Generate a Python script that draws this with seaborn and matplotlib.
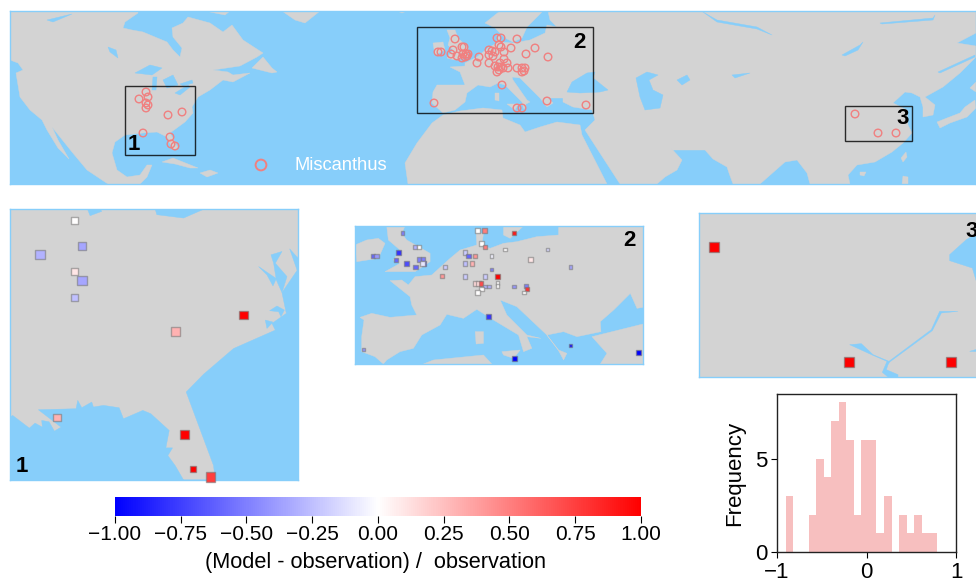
import numpy as np
import matplotlib
matplotlib.use('Agg')
import matplotlib.pyplot as plt
from matplotlib.patches import Polygon, Rectangle
from matplotlib.cm import ScalarMappable
from matplotlib.colors import Normalize
from matplotlib.ticker import FuncFormatter
import seaborn as sns

LAND = 'lightgrey'
WATER = 'lightskyblue'
MARK = 'lightcoral'

# world map outlines, map units
north_america = [(10,11),(138,11),(138,13),(125,22),(123,28),(132,30),(143,32),(167,42),(173,50),(180,57),(182,48),(173,37),(172,28),(183,23),(188,17),(210,23),(223,32),(232,25),(243,40),(263,53),(257,57),(240,66),(213,70),(228,72),(233,75),(250,73),(233,82),(223,80),(210,90),(198,97),(192,107),(193,113),(185,122),(170,133),(178,148),(173,150),(167,137),(157,132),(143,133),(125,135),(115,142),(112,153),(117,170),(127,177),(140,175),(147,165),(152,165),(147,177),(140,184),(108,184),(87,170),(72,152),(52,127),(58,140),(69,159),(58,148),(47,130),(42,120),(30,110),(20,97),(16,73),(23,70),(18,63),(10,60)]
eurasia = [(548,11),(976,11),(976,33),(957,43),(976,46),(976,57),(960,73),(943,87),(925,97),(935,105),(933,115),(923,117),(923,107),(920,97),(912,93),(905,92),(893,103),(907,110),(908,125),(912,133),(903,143),(892,152),(875,162),(857,165),(848,175),(850,184),(810,184),(807,173),(797,160),(785,162),(760,184),(733,184),(729,173),(727,167),(713,159),(705,150),(673,150),(670,147),(660,155),(652,152),(645,142),(640,133),(648,138),(652,145),(670,147),(682,160),(677,170),(665,177),(657,184),(620,184),(585,130),(595,120),(592,110),(573,107),(563,102),(563,98),(548,98),(553,103),(547,107),(540,98),(520,78),(512,77),(513,80),(527,100),(530,102),(526,104),(524,109),(522,102),(505,85),(498,83),(490,87),(478,85),(467,93),(465,102),(455,110),(443,113),(432,103),(433,92),(437,85),(465,85),(460,72),(450,67),(465,66),(465,63),(477,57),(488,48),(497,43),(497,37),(500,35),(500,42),(513,43),(530,40),(545,33),(547,25),(557,27),(550,20)]
scandinavia = [(500,11),(543,11),(527,27),(522,38),(513,42),(505,38),(495,28),(485,23)]
africa = [(408,184),(405,163),(417,143),(432,123),(443,115),(460,111),(483,108),(502,110),(503,118),(520,125),(525,132),(540,127),(557,122),(580,125),(582,135),(607,184)]
small_land = [
    [(447,30),(455,30),(458,38),(468,48),(468,57),(455,60),(447,58),(453,50),(448,45),(450,38)],
    [(433,43),(443,42),(445,50),(435,55)],
    [(495,93),(499,93),(499,101),(495,100)],
    [(507,104),(518,104),(515,110)],
    [(252,68),(263,57),(272,68),(277,72),(272,73),(260,70)],
    [(205,11),(230,11),(225,15)],
    [(282,11),(320,11),(305,23),(295,20)],
    [(397,11),(407,11),(402,13)],
    [(162,162),(173,158),(198,168),(190,168),(175,164)],
    [(200,173),(210,170),(218,173),(207,177)],
    [(906,152),(907,157),(903,162),(901,158)],
    [(902,184),(903,176),(908,177),(908,184)],
    [(937,122),(947,118),(960,113),(965,107),(975,100),(976,108),(967,117),(950,123),(940,128)],
    [(970,88),(976,82),(976,92)],
    [(860,172),(866,172),(864,176),(860,175)],
]
inland_water = [
    [(108,47),(116,50),(118,58),(110,52)],
    [(135,73),(150,65),(162,68),(152,75)],
    [(153,77),(157,77),(156,90),(152,90)],
    [(163,80),(173,75),(178,85),(167,88)],
    [(175,93),(188,85),(190,87),(180,95)],
    [(180,84),(192,80),(193,83),(183,86)],
    [(47,20),(72,14),(53,22)],
    [(567,92),(572,82),(587,73),(595,72),(593,78),(608,90),(600,92),(580,93)],
    [(636,78),(647,72),(658,75),(649,80),(653,90),(663,95),(660,108),(645,110),(640,97)],
    [(677,80),(687,75),(690,80),(682,85)],
    [(842,55),(860,45),(863,42),(858,50),(845,56)],
    [(732,75),(750,73),(735,78)],
    [(703,12),(717,20),(757,27),(772,35),(757,29),(717,22)],
    [(880,23),(933,18),(935,15),(933,20),(882,24)],
    [(938,72),(975,55),(975,57),(940,73)],
]

# study sites on the world map
site_x = [146,139,148,146,148,146,168,182,143,170,171,175,
          434,438,441,455,462,464,453,451,457,462,463,466,467,468,465,479,477,489,492,495,489,493,489,497,501,499,501,517,511,504,535,526,548,504,507,500,495,498,501,499,497,503,508,517,522,525,524,522,502,517,522,547,586,
          855,878,896]
site_y = [92,99,97,103,105,108,115,112,133,137,144,146,
          103,52,52,39,47,47,50,54,56,58,54,54,56,54,57,57,63,50,51,52,55,56,63,38,38,45,47,39,48,52,48,54,57,59,63,63,66,67,67,70,72,68,68,68,68,68,71,72,85,108,108,101,105,
          114,133,133]
box_x0 = [125,417,845]
box_y0 = [86,27,106]
box_x1 = [195,593,912]
box_y1 = [155,113,141]
box_names = ['1','2','3']
box_label_x = [134,579,903]
box_label_y = [145,42,118]

# region 1
r1_water = [
    [(893,170),(890,212),(845,278),(858,340),(815,370),(825,390),(700,445),(610,522),(558,575),(640,795),(645,838),(550,838),(525,795),(503,765),(517,742),(497,742),(507,690),(452,640),(428,630),(370,655),(357,622),(310,615),(280,620),(275,605),(245,622),(233,600),(228,625),(115,628),(183,680),(163,692),(147,664),(125,660),(127,680),(105,668),(88,683),(38,645),(30,650),(30,838),(893,838)],
    [(868,147),(893,175),(893,205),(890,210)],
    [(812,165),(845,155),(825,190),(860,230),(845,278),(828,240),(820,190)],
    [(775,200),(828,236),(818,258),(800,225)],
    [(808,332),(830,318),(852,330),(842,350),(835,335)],
    [(795,360),(818,366),(800,385)],
    [(262,28),(270,48),(305,35),(300,28)],
    [(465,28),(470,45),(550,55),(612,28)],
]
r1_x = [222,246,120,222,246,222,730,526,170,554,578,630]
r1_y = [62,139,164,216,241,293,345,395,651,702,804,829]
r1_val = [0.0,-0.35,-0.3,0.1,-0.35,-0.25,1.0,0.3,0.3,1.0,1.0,0.75]
r1_size = [26,32,44,26,44,26,38,44,30,44,18,44]

# region 2
r2_land = [
    [(120,182),(155,180),(175,195),(195,170),(245,165),(300,115),(330,90),(380,75),(378,40),(400,40),(395,75),(420,85),(460,70),(500,65),(560,50),(625,45),(625,18),(878,18),(878,262),(860,265),(840,220),(790,270),(750,305),(752,335),(680,350),(640,335),(590,345),(625,390),(650,400),(640,420),(625,392),(590,345),(500,260),(450,240),(470,285),(530,345),(572,355),(530,350),(545,385),(520,395),(505,345),(430,300),(380,268),(340,295),(290,283),(270,315),(215,345),(190,385),(150,395),(110,420),(100,432),(75,410),(35,395),(35,350),(42,300),(30,292),(65,280),(120,292),(200,285),(185,255),(180,230)],
    [(460,18),(520,18),(480,55),(460,45)],
    [(110,18),(165,18),(155,40),(170,60),(240,100),(240,125),(195,155),(105,155),(150,130),(130,120),(150,90),(115,60)],
    [(15,75),(50,60),(85,55),(105,70),(85,115),(20,125)],
    [(375,335),(400,335),(400,370),(378,372)],
    [(455,395),(510,390),(490,415),(460,405)],
    [(220,432),(250,420),(400,405),(425,432)],
    [(725,350),(878,312),(878,432),(750,432),(770,400)],
]
r2_x = [383,404,492,157,394,404,465,591,344,355,374,424,195,207,69,80,146,138,169,206,218,222,217,196,284,344,366,541,424,660,275,344,404,443,375,385,393,442,442,404,416,394,382,492,528,530,522,415,40,492,660,865]
r2_y = [31,31,39,39,70,81,88,88,97,108,108,108,81,81,108,108,97,119,130,118,118,130,130,141,141,130,130,118,149,141,169,169,169,169,190,190,190,189,197,199,199,207,217,199,199,207,217,289,388,415,377,398]
r2_val = [0.0,0.5,0.9,-0.5,0.0,0.5,0.0,-0.15,-0.2,-0.6,0.4,-0.05,-0.3,0.0,-0.6,-0.4,-0.8,-0.6,-0.7,-0.5,-0.5,-0.7,-0.1,-0.6,-0.2,-0.25,0.3,0.1,-0.5,-0.35,0.4,-0.2,-0.2,1.0,0.15,0.15,0.7,0.0,0.0,-0.3,-0.3,0.0,0.0,-0.4,-0.5,0.8,0.0,-0.8,-0.4,-1.0,-0.9,-1.0]
r2_size = [12,12,6,6,10,10,6,6,10,12,7,7,10,10,10,10,12,7,12,10,10,12,12,12,10,10,10,10,5,6,7,10,10,12,10,10,10,7,7,6,6,10,10,6,7,10,6,14,6,12,6,12]

# region 3
r3_water = [
    [(780,150),(830,105),(892,70),(892,240),(860,230),(848,190),(780,168)],
    [(480,420),(515,417),(550,450),(598,470),(725,375),(750,320),(805,320),(755,325),(728,378),(600,472),(595,480),(590,495),(625,510),(625,517),(595,517),(578,503),(592,470),(550,452)],
    [(840,440),(892,425),(892,442)],
]
r3_x = [74,477,785]
r3_y = [128,472,472]
r3_val = [1.0,1.0,1.0]
r3_size = [50,50,50]

# histogram of (model - observation) / observation
hist_centres = [-0.858,-0.774,-0.690,-0.605,-0.521,-0.437,-0.352,-0.268,-0.184,-0.099,-0.015,0.069,0.154,0.238,0.322,0.407,0.491,0.575,0.660,0.744]
hist_counts = [3,0,0,2,5,4,7,8,6,2,6,6,1,3,0,2,1,2,1,1]
cbar_ticks = [-1.0,-0.75,-0.5,-0.25,0.0,0.25,0.5,0.75,1.0]

sns.set_theme(style='white', rc={'text.color': 'black', 'axes.labelcolor': 'black',
                                 'xtick.color': 'black', 'ytick.color': 'black'})
plt.rcParams['font.family'] = ['Liberation Sans', 'DejaVu Sans']
plt.rcParams['axes.unicode_minus'] = True

W, H = 976, 582
fig = plt.figure(figsize=(W / 100, H / 100), dpi=100)


def box_axes(left, top, right, bottom):
    ax = fig.add_axes([left / W, 1 - bottom / H, (right - left) / W, (bottom - top) / H])
    ax.set_xticks([])
    ax.set_yticks([])
    for s in ax.spines.values():
        s.set_color(WATER)
        s.set_linewidth(1)
    return ax


def fill_all(ax, polys, color):
    for p in polys:
        ax.add_patch(Polygon(p, closed=True, fc=color, ec=color, lw=0.3))


def region_sites(ax, x, y, val, size):
    sns.scatterplot(x=x, y=y, hue=val, hue_norm=(-1, 1), palette='bwr', size=size,
                    sizes=(min(size), max(size)), size_norm=(min(size), max(size)),
                    marker='s', edgecolor=(0.45, 0.45, 0.45, 0.55), linewidth=1.0,
                    legend=False, clip_on=False, zorder=5, ax=ax)
    ax.set_xlabel('')
    ax.set_ylabel('')


# world map
ax = box_axes(10, 11, 976, 184)
ax.set_facecolor(WATER)
fill_all(ax, [north_america, eurasia, scandinavia, africa] + small_land, LAND)
fill_all(ax, inland_water, WATER)
sns.scatterplot(x=site_x, y=site_y, s=30, facecolor='none', edgecolor=MARK, linewidth=1.0, zorder=4, ax=ax)
for i in range(3):
    ax.add_patch(Rectangle((box_x0[i], box_y0[i]), box_x1[i] - box_x0[i], box_y1[i] - box_y0[i],
                           fill=False, ec='black', lw=1, alpha=0.8, zorder=5))
    ax.text(box_label_x[i], box_label_y[i], box_names[i], fontsize=16, fontweight='bold',
            ha='center', va='center', color='black', zorder=6)
ax.scatter([261], [165], s=60, facecolor='none', edgecolor=MARK, linewidth=1.4, zorder=4)
ax.text(294, 165.5, 'Miscanthus', color='white', fontsize=13.2, va='center', ha='left')
ax.set_xlim(10, 976)
ax.set_ylim(184, 11)

# region 1
ax1 = box_axes(10, 209, 298, 480)
ax1.set_facecolor(LAND)
fill_all(ax1, r1_water, WATER)
region_sites(ax1, r1_x, r1_y, r1_val, r1_size)
ax1.text(64, 797, '1', fontsize=16, fontweight='bold', ha='center', va='center', color='black')
ax1.set_xlim(30, 893)
ax1.set_ylim(838, 28)

# region 2
ax2 = box_axes(355, 226, 643, 364)
ax2.set_facecolor(WATER)
fill_all(ax2, r2_land, LAND)
region_sites(ax2, r2_x, r2_y, r2_val, r2_size)
ax2.text(837, 62, '2', fontsize=16, fontweight='bold', ha='center', va='center', color='black')
ax2.set_xlim(15, 878)
ax2.set_ylim(432, 18)

# region 3
ax3 = box_axes(699, 213, 987, 377)
ax3.set_facecolor(LAND)
fill_all(ax3, r3_water, WATER)
region_sites(ax3, r3_x, r3_y, r3_val, r3_size)
ax3.text(845, 82, '3', fontsize=16, fontweight='bold', ha='center', va='center', color='black')
ax3.set_xlim(28, 892)
ax3.set_ylim(517, 25)

# colorbar
cax = fig.add_axes([115 / W, 1 - 516 / H, 526 / W, 19 / H])
cb = fig.colorbar(ScalarMappable(norm=Normalize(-1, 1), cmap='bwr'), cax=cax, orientation='horizontal',
                  ticks=cbar_ticks, format=FuncFormatter(lambda v, pos: f'{v:.2f}'.replace('-', '\u2212')))
cb.outline.set_visible(False)
cb.ax.tick_params(labelsize=15, length=5, width=0.8, color='black', bottom=True, pad=1.5)
cb.ax.set_xlabel('(Model - observation) /  observation', fontsize=15.7, labelpad=6, x=0.495)

# histogram
hax = fig.add_axes([777 / W, 1 - 552 / H, 179 / W, 158 / H])
sns.histplot(x=hist_centres, weights=hist_counts, bins=20, binrange=(-0.9, 0.786),
             color=MARK, alpha=0.5, linewidth=0, ax=hax)
hax.set_xlim(-1, 1)
hax.set_ylim(0, 8.45)
hax.set_xticks([-1, 0, 1])
hax.set_yticks([0, 5])
hax.set_ylabel('Frequency', fontsize=16, labelpad=7)
hax.tick_params(labelsize=16, length=4, width=0.8, bottom=True, left=True, color='black', pad=3)
for s in hax.spines.values():
    s.set_color('#222222')
    s.set_linewidth(1)

fig.savefig('out.png', dpi=100)
